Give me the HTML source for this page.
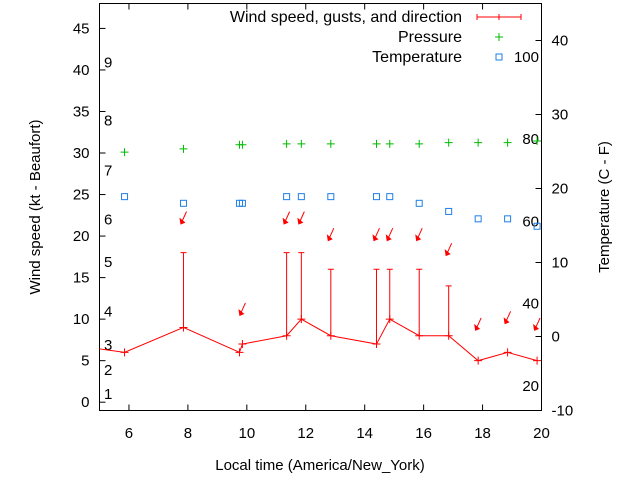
<!DOCTYPE html>
<html><head><meta charset="utf-8"><style>
body{margin:0;background:#fff}
svg{display:block;font-family:"Liberation Sans",sans-serif}
</style></head><body>
<svg id="chart" width="640" height="480" viewBox="0 0 640 480" xmlns="http://www.w3.org/2000/svg"></svg>
<script>
// Data
const windTimes = [4.85, 5.85, 7.85, 9.75, 9.85, 11.35, 11.85, 12.85, 14.4, 14.85, 15.85, 16.85, 17.85, 18.85, 19.85];
const windSpeeds = [6.5, 6, 9, 6, 7, 8, 10, 8, 7, 10, 8, 8, 5, 6, 5];
const gustTimes = [7.85, 11.35, 11.85, 12.85, 14.4, 14.85, 15.85, 16.85];
const gustSpeeds = [18, 18, 18, 16, 16, 16, 16, 14];
const dirTimes = [7.85, 9.85, 11.35, 11.85, 12.85, 14.4, 14.85, 15.85, 16.85, 17.85, 18.85, 19.85];
const dirLevels = [21.5, 10.5, 21.5, 21.5, 19.5, 19.5, 19.5, 19.5, 17.7, 8.7, 9.5, 8.7];
const pressTimes = [5.85, 7.85, 9.75, 9.85, 11.35, 11.85, 12.85, 14.4, 14.85, 15.85, 16.85, 17.85, 18.85, 19.85];
const pressValues = [30.1, 30.5, 31.0, 31.0, 31.1, 31.1, 31.1, 31.1, 31.1, 31.1, 31.25, 31.25, 31.25, 31.45];
const tempTimes = [5.85, 7.85, 9.75, 9.85, 11.35, 11.85, 12.85, 14.4, 14.85, 15.85, 16.85, 17.85, 18.85, 19.85];
const tempValues = [18.9, 18, 18, 18, 18.9, 18.9, 18.9, 18.9, 18.9, 18, 16.9, 15.9, 15.9, 14.9];
const xTicks = [6, 8, 10, 12, 14, 16, 18, 20];
const yTicks = [0, 5, 10, 15, 20, 25, 30, 35, 40, 45];
const y2Ticks = [-10, 0, 10, 20, 30, 40];
const beaufortLabels = ["1","2","3","4","5","6","7","8","9"];
const beaufortLevels = [1, 3.9, 6.9, 10.9, 16.9, 22, 27.9, 33.9, 40.9];
const fahrLabels = ["20","40","60","80","100"];
const fahrValues = [20, 40, 60, 80, 100];

const L=99.5, R=541.5, T=3.5, B=410.5;
const X = t => L + (t-5)/(20-5)*(R-L);
const Y = v => B - (v+1)/(48+1)*(B-T);
const Y2 = v => B - (v+10)/(45+10)*(B-T);
const svg = document.getElementById('chart');
const NS='http://www.w3.org/2000/svg';
function mk(tag, attrs, parent){const e=document.createElementNS(NS,tag);for(const k in attrs)e.setAttribute(k,attrs[k]);(parent||svg).appendChild(e);return e;}
function txt(x,y,s,anchor,parent,extra){const e=mk('text',Object.assign({x:x,y:y,'font-size':15,'text-anchor':anchor||'start',fill:'#000'},extra||{}),parent);e.textContent=s;return e;}

const clip = mk('clipPath',{id:'pc'}); mk('rect',{x:L,y:T,width:R-L,height:B-T},clip);

const frame = mk('rect',{x:L,y:T,width:R-L,height:B-T,fill:'none',stroke:'#000','stroke-width':1});



xTicks.forEach(t=>{
  const g=mk('g',{});
  
  
  mk('line',{x1:X(t),x2:X(t),y1:B,y2:B-6,stroke:'#000'},g);
  mk('line',{x1:X(t),x2:X(t),y1:T,y2:T+6,stroke:'#000'},g);
  txt(X(t),438,String(t),'middle',g);
});
yTicks.forEach(v=>{
  const g=mk('g',{});
  
  
  mk('line',{x1:L,x2:L+6,y1:Y(v),y2:Y(v),stroke:'#000'},g);
  txt(L-10,Y(v)+5,String(v),'end',g);
});
y2Ticks.forEach(v=>{
  const g=mk('g',{});
  
  
  mk('line',{x1:R,x2:R-6,y1:Y2(v),y2:Y2(v),stroke:'#000'},g);
  txt(R+10,Y2(v)+5,String(v),'start',g);
});
beaufortLabels.forEach((s,i)=>{
  const e=txt(104,Y(beaufortLevels[i])+5,s,'start');
  
  
});
fahrValues.forEach((f,i)=>{
  const e=txt(539,Y2((f-32)*5/9)+5,fahrLabels[i],'end');
  
  
});

const plot=mk('g',{'clip-path':'url(#pc)'});



const pl=mk('polyline',{points:windTimes.map((t,i)=>X(t)+','+Y(windSpeeds[i])).join(' '),fill:'none',stroke:'#f00','stroke-width':1},plot);


windTimes.forEach((t,i)=>{
  const x=X(t),y=Y(windSpeeds[i]);
  const p=mk('path',{d:`M${x-4},${y}H${x+4}M${x},${y-4}V${y+4}`,stroke:'#f00'},plot);
  
  
});
gustTimes.forEach((t,i)=>{
  const j=windTimes.indexOf(t);
  const x=X(t),y0=Y(windSpeeds[j]),y1=Y(gustSpeeds[i]);
  const p=mk('path',{d:`M${x},${y0}V${y1}M${x-3},${y1}H${x+3}`,stroke:'#f00'},plot);
  
  
});
dirTimes.forEach((t,i)=>{
  const x=X(t),y=Y(dirLevels[i]);
  const g=mk('g',{},plot);
  
  
  mk('line',{x1:x+3,y1:y-12,x2:x-2,y2:y-1,stroke:'#f00'},g);
  mk('polygon',{points:`${x-3},${y+1} ${x-4},${y-6} ${x+2},${y-1}`,fill:'#f00'},g);
});
pressTimes.forEach((t,i)=>{
  const x=X(t),y=Y(pressValues[i]);
  const p=mk('path',{d:`M${x-4},${y}H${x+4}M${x},${y-4}V${y+4}`,stroke:'#0b0'},plot);
  
  
});
tempTimes.forEach((t,i)=>{
  const x=X(t),y=Y2(tempValues[i]);
  const p=mk('rect',{x:x-3,y:y-3,width:6,height:6,fill:'none',stroke:'#1e7fe8','stroke-width':1},plot);
  
  
});

const lg=mk('g',{});


const l1=mk('g',{},lg);


txt(462,22,'Wind speed, gusts, and direction','end',l1,{'font-size':16});
mk('path',{d:'M477,17H521M477,14V20M521,14V20M499,14V20',stroke:'#f00'},l1);
const l2=mk('g',{},lg);


txt(462,42,'Pressure','end',l2,{'font-size':16});
mk('path',{d:'M495,37H503M499,33V41',stroke:'#0b0'},l2);
const l3=mk('g',{},lg);


txt(462,62,'Temperature','end',l3,{'font-size':16});
mk('rect',{x:496,y:54,width:6,height:6,fill:'none',stroke:'#1e7fe8'},l3);

const xt=txt(320,470,'Local time (America/New_York)','middle');


const yt=txt(0,0,'Wind speed (kt - Beaufort)','middle',svg,{transform:'translate(40,207) rotate(-90)'});


const y2t=txt(0,0,'Temperature (C - F)','middle',svg,{transform:'translate(609,207) rotate(-90)'});


</script>
</body></html>
